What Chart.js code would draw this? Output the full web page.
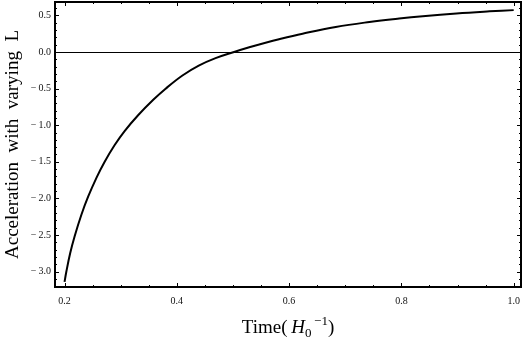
<!DOCTYPE html>
<html>
<head>
<meta charset="utf-8">
<script src="https://cdn.jsdelivr.net/npm/chart.js@4.4.0/dist/chart.umd.min.js"></script>
<style>
  html, body { margin: 0; padding: 0; background: #fff; }
  #chart { display: block; }
</style>
</head>
<body>
<canvas id="chart" width="524" height="340"></canvas>
<script>
// time in units of 1/H0
const times = [0.200, 0.203, 0.210, 0.218, 0.230, 0.242, 0.257, 0.271, 0.289, 0.307, 0.331,
  0.358, 0.380, 0.410, 0.439, 0.469, 0.502, 0.529, 0.558, 0.582, 0.624, 0.683, 0.743,
  0.796, 0.838, 0.898, 0.957, 1.000];
const accel = [-3.14, -3.008, -2.749, -2.517, -2.223, -1.977, -1.715, -1.505, -1.274, -1.08, -0.864,
  -0.653, -0.501, -0.321, -0.186, -0.084, 0.0, 0.064, 0.127, 0.175, 0.250, 0.342, 0.410,
  0.458, 0.490, 0.527, 0.555, 0.572];

const xTickValues = [0.2, 0.4, 0.6, 0.8, 1.0];
const xTickLabels = ['0.2', '0.4', '0.6', '0.8', '1.0'];
const yTickValues = [-3.0, -2.5, -2.0, -1.5, -1.0, -0.5, 0.0, 0.5];
const yTickLabels = ['\u2212\u20093.0', '\u2212\u20092.5', '\u2212\u20092.0', '\u2212\u20091.5',
  '\u2212\u20091.0', '\u2212\u20090.5', '0.0', '0.5'];

const yTitle = 'Acceleration  with  varying  L';

const serif = '"Liberation Serif", "DejaVu Serif", serif';
const tickFont = { family: serif, size: 10 };
const tickColor = '#111';

// no extra room for the end labels, the frame sits where the axes say
const noPad = s => { s.paddingTop = 0; s.paddingBottom = 0; s.paddingLeft = 0; s.paddingRight = 0; };

// frame, inside ticks, y = 0 axis and the x title
const framePlugin = {
  id: 'frame',
  beforeDatasetsDraw(chart) {
    const { ctx, chartArea: a, scales: { y } } = chart;
    const py = Math.round(y.getPixelForValue(0)) + 0.5;
    ctx.save();
    ctx.strokeStyle = '#000';
    ctx.lineWidth = 1;
    ctx.beginPath();
    ctx.moveTo(a.left, py);
    ctx.lineTo(a.right, py);
    ctx.stroke();
    ctx.restore();
  },
  afterDraw(chart) {
    const { ctx, chartArea: a, scales: { x, y } } = chart;
    ctx.save();
    ctx.strokeStyle = '#000';
    ctx.lineWidth = 1;
    ctx.beginPath();
    // x ticks every 0.05, major every 0.2
    for (let i = 4; i <= 20; i++) {
      const px = Math.round(x.getPixelForValue(i * 0.05)) + 0.5;
      const len = (i % 4 === 0) ? 4 : 2;
      ctx.moveTo(px, a.bottom); ctx.lineTo(px, a.bottom - len);
      ctx.moveTo(px, a.top); ctx.lineTo(px, a.top + len);
    }
    // y ticks every 0.1, major every 0.5
    for (let i = -32; i <= 6; i++) {
      const py = Math.round(y.getPixelForValue(i * 0.1)) + 0.5;
      const len = (i % 5 === 0) ? 4 : 2;
      ctx.moveTo(a.left, py); ctx.lineTo(a.left + len, py);
      ctx.moveTo(a.right, py); ctx.lineTo(a.right - len, py);
    }
    ctx.stroke();

    ctx.lineWidth = 2;
    ctx.strokeRect(a.left, a.top, a.right - a.left, a.bottom - a.top);

    // x title: Time( H0^-1 )
    const parts = [
      { t: 'Time(\u2009', f: '19px ' + serif, dy: 0 },
      { t: 'H', f: 'italic 19px ' + serif, dy: 0 },
      { t: '0', f: '13px ' + serif, dy: 4 },
      { t: '\u2009\u22121', f: '13px ' + serif, dy: -8 },
      { t: ')', f: '19px ' + serif, dy: 0 }
    ];
    let w = 0;
    parts.forEach(p => { ctx.font = p.f; p.w = ctx.measureText(p.t).width; w += p.w; });
    let cx = (a.left + a.right) / 2 - w / 2;
    const base = 333;
    ctx.fillStyle = '#000';
    ctx.textBaseline = 'alphabetic';
    ctx.textAlign = 'left';
    parts.forEach(p => {
      ctx.font = p.f;
      ctx.fillText(p.t, cx, base + p.dy);
      cx += p.w;
    });
    ctx.restore();
  }
};

new Chart(document.getElementById('chart'), {
  type: 'line',
  data: {
    datasets: [{
      data: times.map((t, i) => ({ x: t, y: accel[i] })),
      borderColor: '#000',
      borderWidth: 2,
      pointRadius: 0,
      fill: false,
      tension: 0.4
    }]
  },
  options: {
    responsive: false,
    animation: false,
    devicePixelRatio: 1,
    layout: { padding: { top: 2, right: 3, left: 0, bottom: 0 } },
    plugins: { legend: { display: false }, tooltip: { enabled: false } },
    scales: {
      x: {
        type: 'linear',
        min: 0.183,
        max: 1.013,
        grid: { display: false, drawTicks: false },
        border: { display: false },
        afterBuildTicks: s => { s.ticks = xTickValues.map(v => ({ value: v })); },
        afterFit: s => { s.height = 53; noPad(s); },
        ticks: {
          font: tickFont,
          color: tickColor,
          padding: 8,
          maxRotation: 0,
          autoSkip: false,
          callback: (v, i) => xTickLabels[i]
        }
      },
      y: {
        min: -3.21,
        max: 0.683,
        grid: { display: false, drawTicks: false },
        border: { display: false },
        afterBuildTicks: s => { s.ticks = yTickValues.map(v => ({ value: v })); },
        afterFit: s => { s.width = 55; noPad(s); },
        ticks: {
          font: tickFont,
          color: tickColor,
          padding: 4,
          autoSkip: false,
          callback: (v, i) => yTickLabels[i]
        },
        title: {
          display: true,
          text: yTitle,
          color: '#000',
          font: { family: serif, size: 19 },
          padding: { top: 2, bottom: 0 }
        }
      }
    }
  },
  plugins: [framePlugin]
});
</script>
</body>
</html>
